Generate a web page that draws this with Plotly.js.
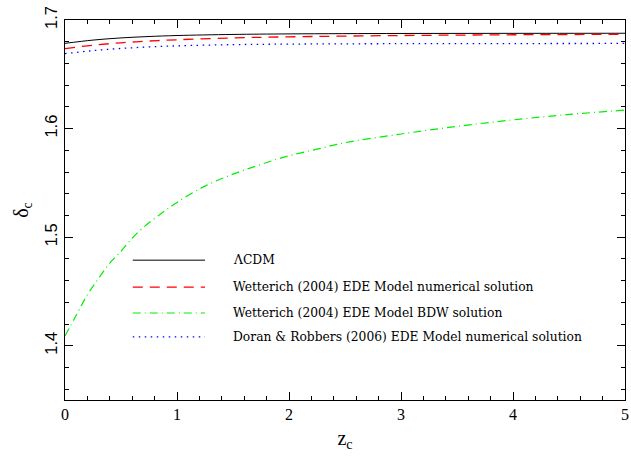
<!DOCTYPE html>
<html>
<head>
<meta charset="utf-8">
<script src="https://cdn.plot.ly/plotly-3.0.1.min.js"></script>
<style>html,body{margin:0;padding:0;background:#fff;}#chart{width:631px;height:464px;}</style>
</head>
<body>
<div id="chart"></div>
<script>
// Data
const zLCDM = [0, 0.25, 0.5, 0.75, 1, 1.5, 2, 3, 4, 5];
const dLCDM = [1.6785, 1.6815, 1.6835, 1.6848, 1.6857, 1.6867, 1.6872, 1.6876, 1.6877, 1.6878];

const zWetNum = [0, 0.25, 0.5, 0.75, 1, 1.5, 2, 3, 4, 5];
const dWetNum = [1.6737, 1.6768, 1.6790, 1.6806, 1.6818, 1.6835, 1.6845, 1.6857, 1.6864, 1.6868];

const zWetBDW = [0, 0.1, 0.2, 0.3, 0.4, 0.5, 0.6, 0.7, 0.85, 1, 1.25, 1.5, 1.75, 2, 2.25, 2.5, 3, 3.5, 4, 4.5, 5];
const dWetBDW = [1.409, 1.428, 1.447, 1.462, 1.476, 1.487, 1.499, 1.509, 1.521, 1.532, 1.547, 1.558, 1.567, 1.575, 1.581, 1.587, 1.595, 1.602, 1.608, 1.613, 1.617];

const zDR = [0, 0.25, 0.5, 0.75, 1, 1.5, 2, 3, 4, 5];
const dDR = [1.6690, 1.6718, 1.6738, 1.6752, 1.6762, 1.6773, 1.6778, 1.6782, 1.6783, 1.6784];

const seriesNames = [
  "ΛCDM",
  "Wetterich (2004) EDE Model numerical solution",
  "Wetterich (2004) EDE Model BDW solution",
  "Doran & Robbers (2006) EDE Model numerical solution"
];
const seriesColors = ["#000000", "#ff0000", "#00ee00", "#0000ff"];
const seriesDash = ["solid", "10px,7px", "8px,4px,1px,4px", "1.5px,4.5px"];
const seriesWidth = [1, 1.3, 1.2, 1.3];

const xs = [zLCDM, zWetNum, zWetBDW, zDR];
const ys = [dLCDM, dWetNum, dWetBDW, dDR];

const traces = xs.map((x, i) => ({
  x: x, y: ys[i], type: "scatter", mode: "lines", name: seriesNames[i],
  line: {color: seriesColors[i], width: seriesWidth[i], dash: seriesDash[i], shape: "spline", smoothing: 1},
  showlegend: false, hoverinfo: "skip"
}));

// manual legend (line samples + labels) positioned in paper coordinates
const legX0 = 0.121, legX1 = 0.25, legTextX = 0.296;
const legY = [0.368, 0.297, 0.229, 0.166];
const shapes = legY.map((y, i) => ({
  type: "line", xref: "paper", yref: "paper", x0: legX0, x1: legX1, y0: y, y1: y,
  line: {color: seriesColors[i], width: seriesWidth[i], dash: seriesDash[i]}
}));
const annotations = legY.map((y, i) => ({
  xref: "paper", yref: "paper", x: legTextX, y: y, xanchor: "left", yanchor: "middle",
  text: seriesNames[i], showarrow: false,
  font: {family: "DejaVu Serif", size: 12.3, color: "#000"}
}));

const layout = {
  width: 631, height: 464,
  margin: {l: 65, r: 6, t: 20, b: 64},
  paper_bgcolor: "#fff", plot_bgcolor: "#fff",
  showlegend: false,
  xaxis: {
    range: [0, 5], dtick: 1, tick0: 0,
    ticks: "inside", ticklen: 8, tickwidth: 1, tickcolor: "#000",
    mirror: "allticks", showline: true, linecolor: "#000", linewidth: 1,
    showgrid: false, zeroline: false,
    minor: {dtick: 0.2, ticks: "inside", ticklen: 4, tickcolor: "#000", showgrid: false},
    tickfont: {family: "Liberation Serif", size: 16, color: "#000"},
    title: {text: "z<sub>c</sub>", font: {family: "Liberation Serif", size: 20, color: "#000"}, standoff: 8}
  },
  yaxis: {
    range: [1.35, 1.7], dtick: 0.1, tick0: 1.4, tickformat: ".1f",
    ticks: "inside", ticklen: 8, tickwidth: 1, tickcolor: "#000",
    mirror: "allticks", showline: true, linecolor: "#000", linewidth: 1,
    showgrid: false, zeroline: false,
    minor: {dtick: 0.02, ticks: "inside", ticklen: 4, tickcolor: "#000", showgrid: false},
    tickangle: -90,
    tickfont: {family: "Liberation Sans", size: 16.5, color: "#000"},
    title: {text: "δ<sub>c</sub>", font: {family: "Liberation Serif", size: 20, color: "#000"}, standoff: 8}
  },
  shapes: shapes,
  annotations: annotations
};

Plotly.newPlot("chart", traces, layout, {staticPlot: true, displayModeBar: false});
</script>
</body>
</html>
